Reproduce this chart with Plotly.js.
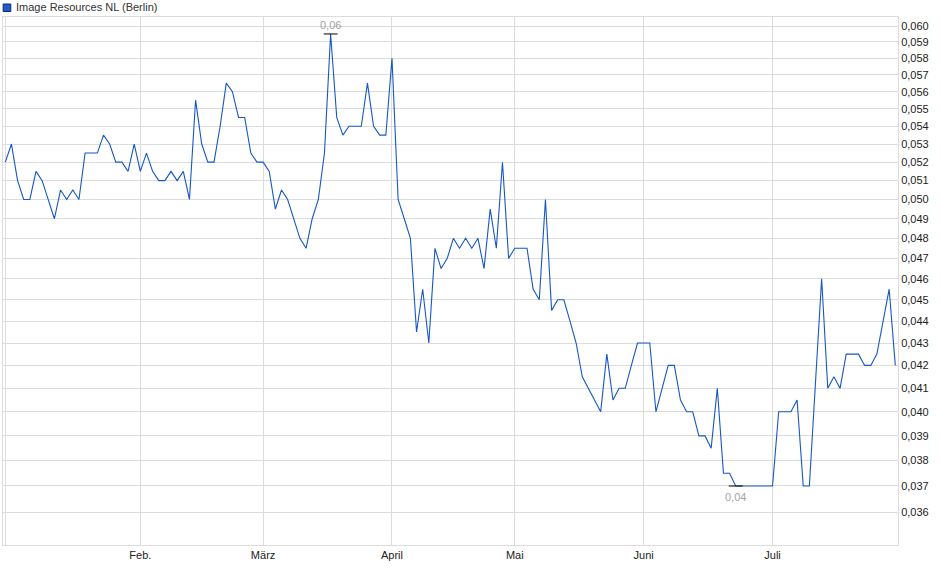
<!DOCTYPE html>
<html>
<head>
<meta charset="utf-8">
<script src="https://cdn.plot.ly/plotly-3.0.1.min.js"></script>
<style>
  html, body { margin: 0; padding: 0; background: #fff; }
  #chart { width: 940px; height: 579px; }
</style>
</head>
<body>
<div id="chart"></div>
<script>
// Daily closing prices (EUR), one value per trading day, January - July
const prices = [
  0.052, 0.053, 0.051, 0.050, 0.050, 0.0515, 0.051, 0.050, 0.049, 0.0505,
  0.050, 0.0505, 0.050, 0.0525, 0.0525, 0.0525, 0.0535, 0.053, 0.052, 0.052,
  0.0515, 0.053,
  // Feb.
  0.0515, 0.0525, 0.0515, 0.051, 0.051, 0.0515, 0.051, 0.0515, 0.050, 0.0555,
  0.053, 0.052, 0.052, 0.054, 0.0565, 0.056, 0.0545, 0.0545, 0.0525, 0.052,
  // März
  0.052, 0.0515, 0.0495, 0.0505, 0.050, 0.049, 0.048, 0.0475, 0.049, 0.050,
  0.0525, 0.0595, 0.0545, 0.0535, 0.054, 0.054, 0.054, 0.0565, 0.054, 0.0535,
  0.0535,
  // April
  0.058, 0.050, 0.049, 0.048, 0.0435, 0.0455, 0.043, 0.0475, 0.0465, 0.047,
  0.048, 0.0475, 0.048, 0.0475, 0.048, 0.0465, 0.0495, 0.0475, 0.052, 0.047,
  // Mai
  0.0475, 0.0475, 0.0475, 0.0455, 0.045, 0.050, 0.0445, 0.045, 0.045, 0.044,
  0.043, 0.0415, 0.041, 0.0405, 0.040, 0.0425, 0.0405, 0.041, 0.041, 0.042,
  0.043,
  // Juni
  0.043, 0.043, 0.040, 0.041, 0.042, 0.042, 0.0405, 0.040, 0.040, 0.039,
  0.039, 0.0385, 0.041, 0.0375, 0.0375, 0.037, 0.037, 0.037, 0.037, 0.037,
  0.037,
  // Juli
  0.037, 0.040, 0.040, 0.040, 0.0405, 0.037, 0.037, 0.0412, 0.046, 0.041,
  0.0415, 0.041, 0.0425, 0.0425, 0.0425, 0.042, 0.042, 0.0425, 0.044, 0.0455,
  0.042
];
// trading-day index of each point
const dayIndex = prices.map((_, i) => i);

// month ticks: trading-day index of the first day of each month
const monthTickIdx = [0, 22, 42, 63, 83, 104, 125];
const monthTickText = ['', 'Feb.', 'März', 'April', 'Mai', 'Juni', 'Juli'];

// price axis ticks
const yTicks = [0.036, 0.037, 0.038, 0.039, 0.040, 0.041, 0.042, 0.043, 0.044,
  0.045, 0.046, 0.047, 0.048, 0.049, 0.050, 0.051, 0.052, 0.053, 0.054, 0.055,
  0.056, 0.057, 0.058, 0.059, 0.060];

const seriesName = 'Image Resources NL (Berlin)';
const lineColor = '#1757c4';
const fontFam = 'Liberation Sans, Arial, sans-serif';

// highest and lowest point
let maxI = 0, minI = 0;
prices.forEach((v, i) => {
  if (v > prices[maxI]) maxI = i;
  if (v < prices[minI]) minI = i;
});
const fmt2 = v => v.toFixed(2).replace('.', ',');

const traces = [
  {
    type: 'scatter', mode: 'lines', name: seriesName,
    x: dayIndex, y: prices,
    line: { color: lineColor, width: 1.1 },
    hoverinfo: 'skip', showlegend: false
  },
  {
    type: 'scatter', mode: 'markers',
    x: [dayIndex[maxI], dayIndex[minI]],
    y: [prices[maxI], prices[minI]],
    marker: { symbol: 'line-ew', size: 10, color: '#000', line: { color: '#000', width: 1 } },
    hoverinfo: 'skip', showlegend: false, cliponaxis: false
  }
];

const gridColor = '#dcdcdc';
const layout = {
  width: 940, height: 579,
  margin: { l: 3, r: 42, t: 17, b: 34, pad: 0 },
  paper_bgcolor: '#fff', plot_bgcolor: '#fff',
  separators: ',.',
  font: { family: fontFam, size: 11, color: '#222' },
  showlegend: false,
  xaxis: {
    type: 'linear',
    range: [-0.375, 145.44],
    tickmode: 'array', tickvals: monthTickIdx, ticktext: monthTickText,
    showgrid: true, gridcolor: gridColor, gridwidth: 1,
    zeroline: false,
    showline: true, linecolor: gridColor, linewidth: 1, mirror: true,
    ticks: '', tickfont: { size: 11, color: '#222' },
    fixedrange: true
  },
  yaxis: {
    type: 'log', side: 'right',
    range: [-1.45873, -1.21774],
    tickmode: 'array', tickvals: yTicks, tickformat: '.3f',
    showgrid: true, gridcolor: gridColor, gridwidth: 1,
    zeroline: false,
    showline: true, linecolor: gridColor, linewidth: 1, mirror: true,
    ticks: '', tickfont: { size: 11, color: '#222' },
    fixedrange: true
  },
  shapes: [
    { type: 'rect', xref: 'paper', yref: 'paper',
      x0: 0.0002, x1: 0.0087, y0: 1.0104, y1: 1.0246,
      fillcolor: '#1f5cc8', line: { color: '#0d2a66', width: 1 } }
  ],
  annotations: [
    { xref: 'paper', yref: 'paper', x: 0.012, y: 1.018,
      xanchor: 'left', yanchor: 'middle', showarrow: false,
      text: seriesName,
      font: { family: fontFam, size: 11, color: '#333' } },
    { xref: 'x', yref: 'y', x: dayIndex[maxI], y: Math.log10(prices[maxI]),
      xanchor: 'center', yanchor: 'bottom', yshift: 1, showarrow: false,
      text: fmt2(prices[maxI]),
      font: { family: fontFam, size: 11, color: '#a3a3a3' } },
    { xref: 'x', yref: 'y', x: dayIndex[minI], y: Math.log10(prices[minI]),
      xanchor: 'center', yanchor: 'top', yshift: -3, showarrow: false,
      text: fmt2(prices[minI]),
      font: { family: fontFam, size: 11, color: '#a3a3a3' } }
  ]
};

Plotly.newPlot('chart', traces, layout, { staticPlot: true, displayModeBar: false });
</script>
</body>
</html>
